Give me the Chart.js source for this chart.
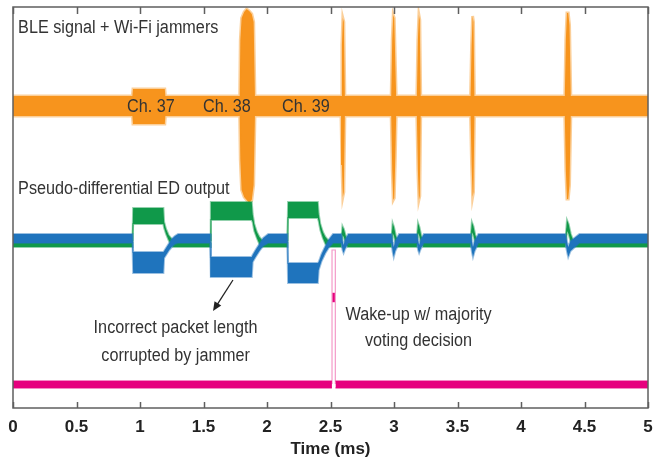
<!DOCTYPE html>
<html>
<head>
<meta charset="utf-8">
<script src="https://cdn.jsdelivr.net/npm/chart.js@4.4.1/dist/chart.umd.min.js"></script>
<style>
  html, body { margin: 0; padding: 0; background: #fff; }
  canvas { display: block; }
</style>
</head>
<body>
<canvas id="scope" width="653" height="461"></canvas>
<script>
// Time axis (ms)
const timeTicks = [0, 0.5, 1, 1.5, 2, 2.5, 3, 3.5, 4, 4.5, 5];

// BLE signal + Wi-Fi jammers: envelope top / bottom (display level) vs time (ms)
const bleTime   = [0, 0.94, 0.945, 1.195, 1.2, 1.785, 1.79, 1.8, 1.82, 1.84, 1.86, 1.88, 1.895, 1.905,
                   2.583, 2.59, 2.597, 2.605, 2.613, 2.978, 2.986, 2.994, 3.002, 3.01, 3.017,
                   3.18, 3.188, 3.196, 3.203, 3.21, 3.603, 3.611, 3.619, 3.626, 3.633,
                   4.345, 4.353, 4.362, 4.372, 4.382, 4.392, 5];
const bleTop    = [312, 312, 319, 319, 312, 312, 368, 390, 396, 399, 397, 394, 386, 312,
                   312, 363, 390, 386, 312, 312, 368, 393, 390, 348, 312,
                   312, 368, 393, 388, 312, 312, 363, 392, 386, 312,
                   312, 368, 395, 395, 383, 312, 312];
const bleBottom = [292, 292, 284, 284, 292, 292, 248, 218, 211, 208, 205, 208, 223, 292,
                   292, 243, 211, 216, 292, 292, 238, 208, 210, 248, 292,
                   292, 238, 208, 212, 292, 292, 243, 211, 216, 292,
                   292, 238, 209, 209, 223, 292, 292];

// Pseudo-differential ED output, positive branch (green)
const edPosTime   = [0, 0.941, 0.946, 1.184, 1.19, 1.205, 1.225, 1.25, 1.26,
                     1.553, 1.558, 1.88, 1.887, 1.9, 1.92, 1.94, 1.96,
                     2.161, 2.166, 2.4, 2.407, 2.42, 2.44, 2.46, 2.48,
                     2.585, 2.594, 2.605, 2.62, 2.635,
                     2.98, 2.989, 3.0, 3.015, 3.03,
                     3.18, 3.189, 3.2, 3.215, 3.23,
                     3.603, 3.613, 3.625, 3.64, 3.655,
                     4.35, 4.362, 4.375, 4.392, 4.41, 5];
const edPosTop    = [168, 168, 200, 200, 186, 179, 173, 169, 168,
                     168, 206, 206, 194, 184, 176, 171, 168,
                     168, 206, 206, 194, 184, 176, 171, 168,
                     168, 182, 179, 172, 168,
                     168, 185, 181, 172, 168,
                     168, 185, 181, 172, 168,
                     168, 186, 182, 173, 168,
                     168, 188, 184, 174, 168, 168];
const edPosBottom = [161, 161, 184, 184, 180, 174, 168, 162, 161,
                     161, 188, 188, 186, 177, 170, 164, 161,
                     161, 190, 190, 187, 178, 170, 164, 161,
                     161, 173, 171, 164, 161,
                     161, 175, 172, 164, 161,
                     161, 175, 172, 164, 161,
                     161, 176, 173, 165, 161,
                     161, 177, 174, 166, 161, 161];

// Pseudo-differential ED output, negative branch (blue)
const edNegTime   = [0, 0.941, 0.946, 1.184, 1.19, 1.21, 1.23, 1.25, 1.275, 1.3,
                     1.553, 1.558, 1.88, 1.887, 1.91, 1.94, 1.97, 2.01,
                     2.161, 2.166, 2.4, 2.407, 2.43, 2.46, 2.49, 2.52,
                     2.585, 2.595, 2.603, 2.615, 2.64,
                     2.98, 2.99, 2.998, 3.01, 3.04,
                     3.18, 3.19, 3.198, 3.21, 3.235,
                     3.603, 3.614, 3.622, 3.635, 3.665,
                     4.35, 4.363, 4.372, 4.39, 4.46, 5];
const edNegTop    = [174, 174, 156, 156, 157, 161, 165, 169, 172, 174,
                     174, 151, 151, 153, 158, 164, 170, 174,
                     174, 145, 145, 146, 154, 162, 169, 174,
                     174, 167, 163, 168, 174,
                     174, 166, 161, 167, 174,
                     174, 167, 163, 168, 174,
                     174, 166, 161, 167, 174,
                     174, 166, 161, 167, 174, 174];
const edNegBottom = [165, 165, 135, 135, 150, 154, 158, 161, 164, 165,
                     165, 131, 131, 146, 151, 157, 162, 165,
                     165, 125, 125, 138, 147, 155, 161, 165,
                     165, 158, 155, 159, 165,
                     165, 156, 151, 157, 165,
                     165, 158, 155, 159, 165,
                     165, 156, 151, 157, 165,
                     165, 156, 151, 157, 165, 165];

// Wake-up output (magenta): baseline band, broken while the pulse is high
const wakeTime   = [0, 2.511, null, 2.539, 5];
const wakeTop    = [27, 27, null, 27, 27];
const wakeBottom = [20, 20, null, 20, 20];
// Wake-up pulse edges and the latched decision marker
const pulseTime  = [2.512, 2.512, 2.538, 2.538];
const pulseLevel = [24, 158, 158, 24];
const latchTime   = [2.512, 2.538];
const latchTop    = [115, 115];
const latchBottom = [106, 106];

const COLORS = {
  ble: '#F7941D',
  edPos: '#10994A',
  edNeg: '#1F74BD',
  wake: '#E6007E',
  wakeEdge: '#F49AC9',
  text: '#333333',
  frame: '#5f5f5f'
};

const SANS = '"Liberation Sans", Arial, sans-serif';
const NOTE_SQUEEZE = 0.9;   // condensed look for annotation text

// Annotations placed in data coordinates (time ms, display level)
const notes = [
  { text: 'BLE signal + Wi-Fi jammers', t: 0.04, v: 380, align: 'left' },
  { text: 'Ch. 37', t: 0.898, v: 301, align: 'left' },
  { text: 'Ch. 38', t: 1.496, v: 301, align: 'left' },
  { text: 'Ch. 39', t: 2.118, v: 301, align: 'left' },
  { text: 'Pseudo-differential ED output', t: 0.04, v: 219, align: 'left' },
  { text: 'Incorrect packet length', t: 1.28, v: 80, align: 'center' },
  { text: 'corrupted by jammer', t: 1.28, v: 52, align: 'center' },
  { text: 'Wake-up w/ majority', t: 3.193, v: 93, align: 'center' },
  { text: 'voting decision', t: 3.193, v: 67, align: 'center' }
];
const arrowFrom = { t: 1.732, v: 128 };
const arrowTo   = { t: 1.575, v: 97 };

function toPoints(time, vals) {
  return time.map((t, i) => ({ x: t, y: vals[i] }));
}

// Split arrays at null entries into contiguous runs
function runs(time, top, bottom) {
  const out = [];
  let cur = { time: [], top: [], bottom: [] };
  time.forEach((t, i) => {
    if (t === null) {
      if (cur.time.length) out.push(cur);
      cur = { time: [], top: [], bottom: [] };
    } else {
      cur.time.push(t); cur.top.push(top[i]); cur.bottom.push(bottom[i]);
    }
  });
  if (cur.time.length) out.push(cur);
  return out;
}

function withAlpha(hex, a) {
  const n = parseInt(hex.slice(1), 16);
  return `rgba(${(n >> 16) & 255},${(n >> 8) & 255},${n & 255},${a})`;
}

const datasets = [];
// A filled envelope: bottom edge followed by top edge filled back to it
function addBand(time, top, bottom, color, order, edge) {
  datasets.push({
    data: toPoints(time, bottom),
    borderColor: withAlpha(color, 0.45),
    borderWidth: edge,
    fill: false,
    order
  });
  datasets.push({
    data: toPoints(time, top),
    borderColor: withAlpha(color, 0.45),
    borderWidth: edge,
    backgroundColor: color,
    fill: '-1',
    order
  });
}

addBand(bleTime, bleTop, bleBottom, COLORS.ble, 5, 3);
runs(wakeTime, wakeTop, wakeBottom).forEach(r => addBand(r.time, r.top, r.bottom, COLORS.wake, 4, 2));
datasets.push({
  data: toPoints(pulseTime, pulseLevel),
  borderColor: COLORS.wakeEdge,
  borderWidth: 1.2,
  fill: false,
  order: 4
});
addBand(latchTime, latchTop, latchBottom, COLORS.wake, 4, 1);
addBand(edPosTime, edPosTop, edPosBottom, COLORS.edPos, 3, 2);
addBand(edNegTime, edNegTop, edNegBottom, COLORS.edNeg, 2, 2);

const framePlugin = {
  id: 'scopeFrame',
  afterDatasetsDraw(chart) {
    const { ctx, chartArea: a, scales } = chart;
    const x = scales.x, y = scales.y;
    ctx.save();
    // annotations
    ctx.fillStyle = COLORS.text;
    ctx.textBaseline = 'middle';
    ctx.font = '18px ' + SANS;
    notes.forEach(n => {
      const px = x.getPixelForValue(n.t), py = y.getPixelForValue(n.v);
      ctx.save();
      ctx.translate(px, py);
      ctx.scale(NOTE_SQUEEZE, 1);
      ctx.textAlign = n.align;
      ctx.fillText(n.text, 0, 0);
      ctx.restore();
    });
    // arrow
    const x0 = x.getPixelForValue(arrowFrom.t), y0 = y.getPixelForValue(arrowFrom.v);
    const x1 = x.getPixelForValue(arrowTo.t), y1 = y.getPixelForValue(arrowTo.v);
    const ang = Math.atan2(y1 - y0, x1 - x0);
    ctx.strokeStyle = '#222';
    ctx.lineWidth = 1.3;
    ctx.beginPath();
    ctx.moveTo(x0, y0);
    ctx.lineTo(x1 - 5 * Math.cos(ang), y1 - 5 * Math.sin(ang));
    ctx.stroke();
    ctx.fillStyle = '#222';
    ctx.beginPath();
    ctx.moveTo(x1, y1);
    ctx.lineTo(x1 - 9 * Math.cos(ang) + 4 * Math.sin(ang), y1 - 9 * Math.sin(ang) - 4 * Math.cos(ang));
    ctx.lineTo(x1 - 9 * Math.cos(ang) - 4 * Math.sin(ang), y1 - 9 * Math.sin(ang) + 4 * Math.cos(ang));
    ctx.closePath();
    ctx.fill();
    // frame and inward ticks
    ctx.strokeStyle = COLORS.frame;
    ctx.lineWidth = 1.5;
    ctx.strokeRect(a.left, a.top, a.right - a.left, a.bottom - a.top);
    ctx.beginPath();
    timeTicks.forEach(t => {
      const px = Math.round(x.getPixelForValue(t)) + 0.5;
      ctx.moveTo(px, a.bottom); ctx.lineTo(px, a.bottom - 6);
      ctx.moveTo(px, a.top); ctx.lineTo(px, a.top + 7);
    });
    ctx.stroke();
    ctx.restore();
  }
};

new Chart(document.getElementById('scope'), {
  type: 'line',
  data: { datasets },
  options: {
    responsive: false,
    animation: false,
    elements: { point: { radius: 0, hoverRadius: 0 }, line: { tension: 0 } },
    layout: { padding: { left: 13, right: 5, top: 7, bottom: 0 } },
    plugins: { legend: { display: false }, tooltip: { enabled: false } },
    events: [],
    scales: {
      x: {
        type: 'linear',
        min: 0,
        max: 5,
        afterBuildTicks: s => { s.ticks = timeTicks.map(v => ({ value: v })); },
        afterFit: s => { s.paddingLeft = 0; s.paddingRight = 0; s.height = 53; },
        grid: { display: false, drawTicks: false },
        border: { display: false },
        ticks: {
          padding: 9,
          color: '#222',
          font: { family: SANS, size: 17, weight: 'bold' },
          maxRotation: 0,
          callback: v => String(v)
        },
        title: {
          display: true,
          text: 'Time (ms)',
          color: '#222',
          font: { family: SANS, size: 17, weight: 'bold' },
          padding: { top: 2, bottom: 1 }
        }
      },
      y: { display: false, min: 0, max: 401 }
    }
  },
  plugins: [framePlugin]
});
</script>
</body>
</html>
